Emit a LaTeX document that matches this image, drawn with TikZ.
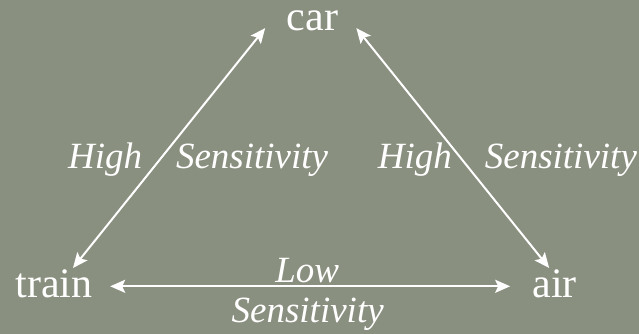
\documentclass[tikz,border=0pt]{standalone}
\usepackage{fontspec}
\setmainfont{Liberation Serif}
\usetikzlibrary{arrows.meta, positioning}
\definecolor{slate}{RGB}{138,144,128}
\tikzset{
  mode/.style={text=white, inner sep=0pt, anchor=base, font=\fontsize{42}{42}\selectfont},
  lbl/.style={text=white, inner sep=0pt, font=\fontsize{37}{37}\selectfont\itshape},
  arr/.style={{Stealth[length=15pt,width=13pt,inset=3pt]}-{Stealth[length=15pt,width=13pt,inset=3pt]},
    line width=2pt, draw=white},
}

\begin{document}
\begin{tikzpicture}[x=1pt, y=1pt]
  \fill[slate] (0,0) rectangle (639,334);
  \useasboundingbox (0,0) rectangle (639,334);

  \node[mode] (car) at (312.5,303) {car};
  \node[mode] (train) at (54,36) {train};
  \node[mode] (air) at (554.5,36) {air};

  \draw[arr] ([xshift=19pt,yshift=2pt]train.north) -- ([xshift=-21.5pt,yshift=3.5pt]car.south west)
    node[lbl, pos=0.414, anchor=base east, xshift=-9.5pt] {High}
    node[lbl, pos=0.414, anchor=base west, xshift=22.5pt] {Sensitivity};
  \draw[arr] ([xshift=18pt,yshift=3.5pt]car.south east) -- ([xshift=17pt,yshift=2pt]air.north west)
    node[lbl, pos=0.586, anchor=base east, xshift=-16.5pt] {High}
    node[lbl, pos=0.586, anchor=base west, xshift=14.5pt] {Sensitivity};
  \draw[arr] ([xshift=17.5pt,yshift=-2pt]train.east) -- ([xshift=-22pt,yshift=-2pt]air.west)
    node[lbl, pos=0.5, anchor=base, xshift=-3pt, yshift=4pt] {Low}
    node[lbl, pos=0.5, anchor=base, xshift=-2.5pt, yshift=-36pt] {Sensitivity};
\end{tikzpicture}
\end{document}
